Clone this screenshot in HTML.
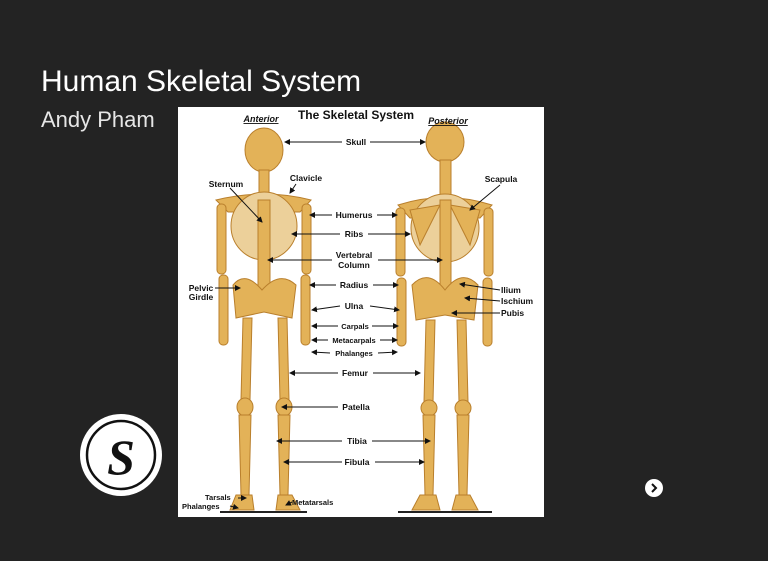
<!DOCTYPE html>
<html><head><meta charset="utf-8"><style>
html,body{margin:0;padding:0;background:#232323;width:768px;height:561px;overflow:hidden;font-family:"Liberation Sans",sans-serif}
.t{position:absolute;left:41px;top:65px;color:#fff;font-size:30px}
.s{position:absolute;left:41px;top:107px;color:#e6e6e6;font-size:22px}
</style></head><body>
<div class="t">Human Skeletal System</div>
<div class="s">Andy Pham</div>
<svg width="768" height="561" style="position:absolute;left:0;top:0" font-family="Liberation Sans, sans-serif">
<defs><marker id="a" markerWidth="6" markerHeight="6" refX="5" refY="3" orient="auto"><path d="M0,0 L6,3 L0,6z" fill="#111"/></marker></defs>
<rect x="178" y="107" width="366" height="410" fill="#fff"/>
<g fill="#e3b258" stroke="#b97f2c" stroke-width="1">
<!-- anterior -->
<ellipse cx="264" cy="150" rx="19" ry="22"/>
<rect x="259" y="170" width="10" height="30"/>
<path d="M216,200 Q264,188 311,200 L300,212 L228,212z"/>
<ellipse cx="264" cy="226" rx="33" ry="34" fill="#ecd09a"/>
<rect x="258" y="200" width="12" height="90"/>
<rect x="217" y="204" width="9" height="70" rx="4"/>
<rect x="302" y="204" width="9" height="70" rx="4"/>
<rect x="219" y="275" width="9" height="70" rx="4"/>
<rect x="301" y="275" width="9" height="70" rx="4"/>
<path d="M233,285 Q245,270 262,290 Q280,270 296,285 L292,318 L264,312 L236,318z"/>
<path d="M243,318 L252,318 L250,400 L241,400z"/>
<path d="M278,318 L287,318 L289,400 L280,400z"/>
<ellipse cx="245" cy="407" rx="8" ry="9"/><ellipse cx="284" cy="407" rx="8" ry="9"/>
<path d="M239,415 L251,415 L249,495 L241,495z"/>
<path d="M278,415 L290,415 L288,495 L280,495z"/>
<path d="M236,495 L252,495 L254,510 L230,510z"/><path d="M278,495 L292,495 L300,510 L276,510z"/>
<!-- posterior -->
<ellipse cx="445" cy="142" rx="19" ry="20"/>
<rect x="440" y="160" width="11" height="40"/>
<path d="M398,205 Q445,190 492,205 L480,218 L410,218z"/>
<ellipse cx="445" cy="228" rx="34" ry="34" fill="#ecd09a"/>
<path d="M450,205 L480,210 L470,245z"/><path d="M440,205 L410,210 L420,245z"/>
<rect x="440" y="200" width="11" height="95"/>
<rect x="396" y="208" width="9" height="68" rx="4"/>
<rect x="484" y="208" width="9" height="68" rx="4"/>
<rect x="397" y="278" width="9" height="68" rx="4"/>
<rect x="483" y="278" width="9" height="68" rx="4"/>
<path d="M412,285 Q428,268 445,290 Q462,268 478,285 L474,320 L445,315 L416,320z"/>
<path d="M426,320 L435,320 L433,402 L424,402z"/>
<path d="M457,320 L466,320 L468,402 L459,402z"/>
<ellipse cx="429" cy="408" rx="8" ry="8"/><ellipse cx="463" cy="408" rx="8" ry="8"/>
<path d="M423,415 L435,415 L433,495 L425,495z"/>
<path d="M457,415 L469,415 L467,495 L459,495z"/>
<path d="M420,495 L436,495 L440,510 L412,510z"/><path d="M456,495 L470,495 L478,510 L452,510z"/>
</g>
<line x1="220" y1="512" x2="307" y2="512" stroke="#222" stroke-width="2"/>
<line x1="398" y1="512" x2="492" y2="512" stroke="#222" stroke-width="2"/>
<g stroke="#111" stroke-width="1" marker-end="url(#a)">
<line x1="342" y1="142" x2="285" y2="142"/><line x1="370" y1="142" x2="425" y2="142"/>
<line x1="230" y1="188" x2="262" y2="222"/><line x1="296" y1="184" x2="290" y2="193"/>
<line x1="500" y1="185" x2="470" y2="210"/>
<line x1="332" y1="215" x2="310" y2="215"/><line x1="377" y1="215" x2="397" y2="215"/>
<line x1="340" y1="234" x2="292" y2="234"/><line x1="368" y1="234" x2="410" y2="234"/>
<line x1="332" y1="260" x2="268" y2="260"/><line x1="378" y1="260" x2="442" y2="260"/>
<line x1="336" y1="285" x2="310" y2="285"/><line x1="373" y1="285" x2="398" y2="285"/>
<line x1="340" y1="306" x2="312" y2="310"/><line x1="370" y1="306" x2="399" y2="310"/>
<line x1="338" y1="326" x2="312" y2="326"/><line x1="372" y1="326" x2="398" y2="326"/>
<line x1="328" y1="340" x2="312" y2="340"/><line x1="380" y1="340" x2="397" y2="340"/>
<line x1="330" y1="353" x2="312" y2="352"/><line x1="378" y1="353" x2="397" y2="352"/>
<line x1="338" y1="373" x2="290" y2="373"/><line x1="373" y1="373" x2="420" y2="373"/>
<line x1="338" y1="407" x2="282" y2="407"/>
<line x1="342" y1="441" x2="277" y2="441"/><line x1="372" y1="441" x2="430" y2="441"/>
<line x1="342" y1="462" x2="284" y2="462"/><line x1="375" y1="462" x2="424" y2="462"/>
<line x1="215" y1="288" x2="240" y2="288"/>
<line x1="500" y1="290" x2="460" y2="284"/><line x1="500" y1="301" x2="465" y2="298"/><line x1="500" y1="313" x2="452" y2="313"/>
<line x1="238" y1="498" x2="246" y2="498"/><line x1="230" y1="506" x2="238" y2="508"/><line x1="292" y1="502" x2="286" y2="505"/>
</g>
<g font-size="8.5" font-weight="bold" fill="#111">
<text x="356" y="119" font-size="12" text-anchor="middle">The Skeletal System</text>
<text x="261" y="122" font-size="9" font-style="italic" text-anchor="middle" text-decoration="underline">Anterior</text>
<text x="448" y="124" font-size="9" font-style="italic" text-anchor="middle" text-decoration="underline">Posterior</text>
<g text-anchor="middle">
<text x="356" y="145">Skull</text><text x="226" y="187">Sternum</text><text x="306" y="181">Clavicle</text>
<text x="501" y="182">Scapula</text><text x="354" y="218">Humerus</text><text x="354" y="237">Ribs</text>
<text x="354" y="258">Vertebral</text><text x="354" y="268">Column</text><text x="354" y="288">Radius</text>
<text x="354" y="309">Ulna</text><text x="355" y="329" font-size="7.5">Carpals</text><text x="354" y="343" font-size="7.5">Metacarpals</text>
<text x="354" y="356" font-size="7.5">Phalanges</text><text x="355" y="376">Femur</text><text x="356" y="410">Patella</text>
<text x="357" y="444">Tibia</text><text x="357" y="465">Fibula</text>
<text x="201" y="291">Pelvic</text><text x="201" y="300">Girdle</text>
</g>
<text x="501" y="293">Ilium</text><text x="501" y="304">Ischium</text><text x="501" y="316">Pubis</text>
<text x="205" y="500" font-size="7.5">Tarsals</text><text x="182" y="509" font-size="7.5">Phalanges</text>
<text x="292" y="505" font-size="7.5">Metatarsals</text>
</g>
<circle cx="121" cy="455" r="41" fill="#fff"/>
<circle cx="121" cy="455" r="34" fill="none" stroke="#111" stroke-width="2.5"/>
<text x="121" y="474" text-anchor="middle" font-family="Liberation Serif, serif" font-style="italic" font-weight="bold" font-size="50" fill="#111">S</text>
<circle cx="654" cy="488" r="9" fill="#fff"/>
<path d="M652,484 L656,488 L652,492" stroke="#111" stroke-width="2" fill="none"/>
</svg>
</body></html>
